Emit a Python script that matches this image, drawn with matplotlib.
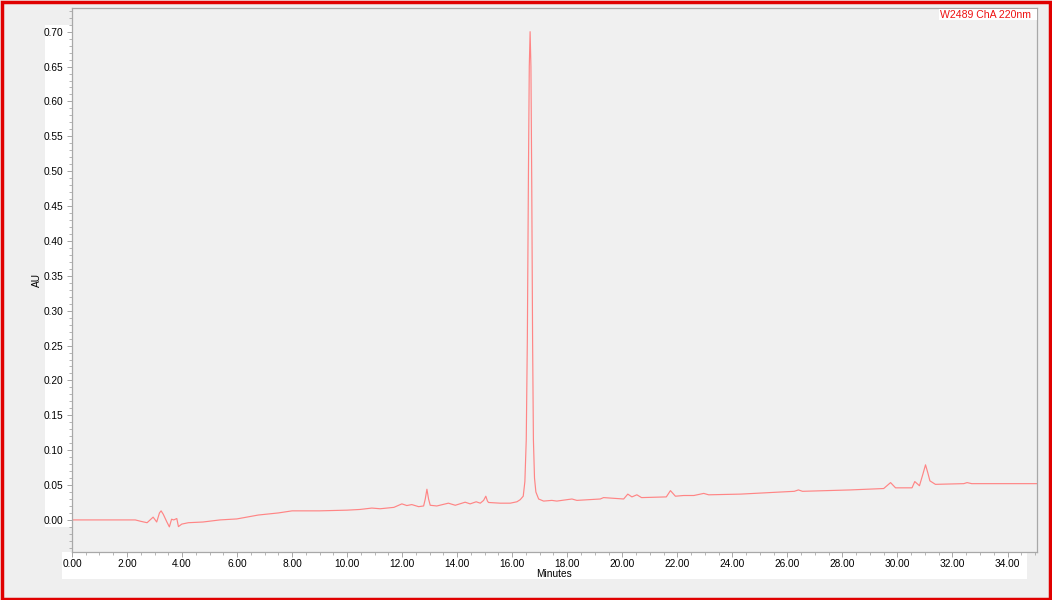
import matplotlib
matplotlib.use("Agg")
import matplotlib.pyplot as plt
from matplotlib.patches import Rectangle
from matplotlib.ticker import MultipleLocator, FormatStrFormatter

plt.rcParams["font.family"] = ["Liberation Sans", "DejaVu Sans"]

# trace (minutes, AU)
minutes = [0.00, 2.30, 2.50, 2.73, 2.95, 3.08, 3.18, 3.24, 3.32, 3.45, 3.54, 3.62, 3.70,
           3.81, 3.87, 3.99, 4.23, 4.76, 5.38, 5.99, 6.77, 7.50, 8.00, 9.00, 10.00, 10.47,
           10.90, 11.20, 11.70, 11.99, 12.17, 12.35, 12.60, 12.78, 12.84, 12.90, 12.96, 13.02,
           13.26, 13.68, 13.93, 14.29, 14.47, 14.69, 14.84, 14.96, 15.04, 15.10, 15.14, 15.56,
           15.93, 16.17, 16.29, 16.40, 16.46, 16.51, 16.55, 16.59, 16.62, 16.65, 16.68, 16.71,
           16.74, 16.77, 16.81, 16.86, 16.96, 17.14, 17.44, 17.62, 18.17, 18.35, 19.20, 19.32,
           20.05, 20.20, 20.35, 20.53, 20.70, 21.60, 21.75, 21.93, 22.23, 22.60, 22.96, 23.14,
           24.30, 25.75, 26.25, 26.40, 26.55, 28.29, 29.50, 29.75, 29.93, 30.53, 30.63, 30.80,
           30.92, 31.02, 31.10, 31.18, 31.38, 32.41, 32.53, 32.70, 35.07]
au = [0.000, 0.000, -0.002, -0.004, 0.004, -0.003, 0.010, 0.013, 0.008, -0.003, -0.010, 0.001, 0.000,
      0.002, -0.0096, -0.006, -0.004, -0.003, 0.000, 0.0014, 0.007, 0.010, 0.013, 0.013, 0.014, 0.015,
      0.017, 0.016, 0.018, 0.023, 0.0206, 0.022, 0.019, 0.020, 0.030, 0.044, 0.030, 0.021,
      0.020, 0.024, 0.021, 0.0254, 0.023, 0.026, 0.024, 0.028, 0.034, 0.027, 0.025, 0.024,
      0.024, 0.026, 0.029, 0.034, 0.055, 0.115, 0.26, 0.50, 0.65, 0.700, 0.65, 0.48,
      0.26, 0.115, 0.060, 0.040, 0.030, 0.027, 0.028, 0.027, 0.030, 0.028, 0.030, 0.032,
      0.030, 0.037, 0.033, 0.036, 0.032, 0.033, 0.042, 0.034, 0.035, 0.035, 0.038, 0.036,
      0.037, 0.040, 0.041, 0.043, 0.041, 0.043, 0.045, 0.0535, 0.046, 0.046, 0.055, 0.049,
      0.065, 0.079, 0.068, 0.056, 0.051, 0.052, 0.0535, 0.052, 0.052]

channel_label = "W2489 ChA 220nm"

fig = plt.figure(figsize=(10.52, 6.0), dpi=100, facecolor="#efefef")

# white strips behind the tick labels
fig.patches.append(Rectangle((0.0428, 0.1217), 0.0257, 0.8367, transform=fig.transFigure,
                             facecolor="white", edgecolor="none", zorder=-1))
fig.patches.append(Rectangle((0.0589, 0.035), 0.9173, 0.045, transform=fig.transFigure,
                             facecolor="white", edgecolor="none", zorder=-1))

ax = fig.add_axes([0.0684, 0.08, 0.9173, 0.9067])
ax.set_zorder(1)
ax.set_facecolor("#f0f0f0")
ax.plot(minutes, au, color="#ff8585", lw=0.85)

ax.set_xlim(0, 35.07)
ax.set_ylim(-0.046, 0.734)
ax.xaxis.set_major_locator(MultipleLocator(2))
ax.xaxis.set_minor_locator(MultipleLocator(0.5))
ax.yaxis.set_major_locator(MultipleLocator(0.05))
ax.yaxis.set_minor_locator(MultipleLocator(0.01))
ax.xaxis.set_major_formatter(FormatStrFormatter("%.2f"))
ax.yaxis.set_major_formatter(FormatStrFormatter("%.2f"))
ax.set_yticks([i * 0.05 for i in range(15)])
ax.tick_params(which="major", length=3.5, width=0.6, color="#999999", labelsize=7.3, pad=3)
ax.tick_params(axis="x", which="major", pad=1.5)
ax.tick_params(which="minor", length=2, width=0.5, color="#999999")
for s in ax.spines.values():
    s.set_color("#a8a8a8")
    s.set_linewidth(0.9)

ax.set_xlabel("Minutes", fontsize=7.3, labelpad=0)
ax.set_ylabel("AU", fontsize=7.3, labelpad=1)

# channel label in the top right corner
fig.patches.append(Rectangle((939 / 1052, 1 - 20 / 600), 98 / 1052, 11 / 600,
                             transform=fig.transFigure, facecolor="white",
                             edgecolor="none", zorder=5))
fig.text(1031 / 1052, 1 - 14.5 / 600, channel_label, color="#ee1111", fontsize=7.6,
         ha="right", va="center", zorder=6)

# red frame round the whole picture
fig.patches.append(Rectangle((0.0015, 0.0025), 0.997, 0.995, transform=fig.transFigure,
                             facecolor="none", edgecolor="#e00000", linewidth=2.5, zorder=10))

fig.savefig("out.png", dpi=100, facecolor=fig.get_facecolor())
